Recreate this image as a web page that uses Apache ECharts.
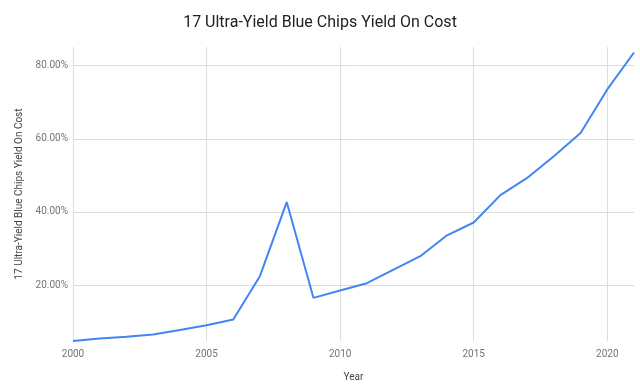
<!DOCTYPE html>
<html>
<head>
<meta charset="utf-8">
<script src="https://cdn.jsdelivr.net/npm/echarts@6/dist/echarts.min.js"></script>
<style>
html,body{margin:0;padding:0;background:#fff;}
#c{width:640px;height:391px;}
</style>
</head>
<body>
<div id="c"></div>
<script>
var titleText = '17 Ultra-Yield Blue Chips Yield On Cost';
var years = [2000,2001,2002,2003,2004,2005,2006,2007,2008,2009,2010,2011,2012,2013,2014,2015,2016,2017,2018,2019,2020,2021];
var yieldOnCost = [4.7,5.4,5.85,6.5,7.7,9.0,10.6,22.5,42.7,16.5,18.5,20.5,24.2,27.9,33.6,37.1,44.6,49.3,55.2,61.6,73.5,83.6];
var xTicks = [2000,2005,2010,2015,2020];
var yTicks = [20,40,60,80];

var chart = echarts.init(document.getElementById('c'), null, {renderer:'canvas'});
var font = 'Roboto, "Noto Sans", sans-serif';
chart.setOption({
  animation:false,
  backgroundColor:'#ffffff',
  title:{
    text:titleText, left:'center', top:10,
    textStyle:{fontFamily:font, fontSize:16, fontWeight:'normal', color:'#222222'}
  },
  grid:{left:73, right:6, top:47, bottom:50, containLabel:false},
  xAxis:{
    type:'value', min:2000, max:2021,
    name:'Year', nameLocation:'middle', nameGap:31,
    nameTextStyle:{fontFamily:font, fontSize:10, color:'#444444'},
    axisLine:{show:false},
    axisTick:{show:false, customValues:xTicks},
    axisLabel:{customValues:xTicks, fontFamily:font, fontSize:10, color:'#757575', margin:8, formatter:function(v){return String(v);}},
    splitLine:{show:true, lineStyle:{color:'#dddddd', width:1}}
  },
  yAxis:{
    type:'value', min:4.7, max:85.1,
    name:'17 Ultra-Yield Blue Chips Yield On Cost', nameLocation:'middle', nameGap:49, nameRotate:90,
    nameTextStyle:{fontFamily:font, fontSize:10, color:'#444444'},
    axisLine:{show:false},
    axisTick:{show:false, customValues:yTicks},
    axisLabel:{customValues:yTicks, fontFamily:font, fontSize:10, color:'#757575', margin:5, formatter:function(v){return v.toFixed(2)+'%';}},
    splitLine:{show:true, lineStyle:{color:'#dddddd', width:1}}
  },
  series:[{
    type:'line',
    data:years.map(function(y,i){return [y, yieldOnCost[i]];}),
    showSymbol:false,
    lineStyle:{color:'#4285F4', width:2},
    itemStyle:{color:'#4285F4'}
  }]
});
</script>
</body>
</html>
